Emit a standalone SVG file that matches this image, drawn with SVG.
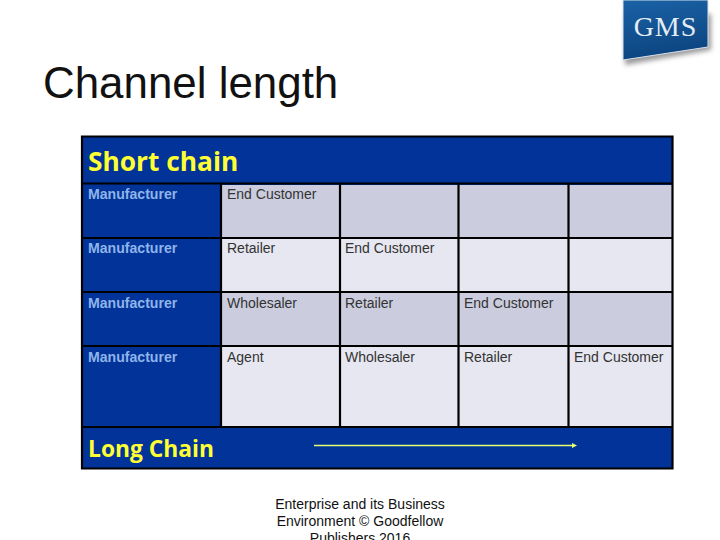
<svg xmlns="http://www.w3.org/2000/svg" width="720" height="540" viewBox="0 0 720 540">
<style>
text{font-family:"Liberation Sans",Arial,sans-serif}
.c{font-size:14px;fill:#333}
.m{font-size:14.100px;font-weight:700;fill:#8fb4ea}
.h{font-family:"Open Sans","Noto Sans",sans-serif;font-weight:700;font-size:26.300px;fill:#ffff33}
.f{font-size:14px;fill:#111;text-anchor:middle}
.d{fill:#cbcdde}.l{fill:#e6e7f0}
.g{stroke:#000;stroke-width:2.200;fill:none}
</style>
<defs>
<linearGradient id="lg" x1="0" y1="0" x2="0.2" y2="1"><stop offset="0" stop-color="#1a62a6"/><stop offset="1" stop-color="#0c4580"/></linearGradient>
<filter id="bl" x="-20%" y="-20%" width="140%" height="140%"><feGaussianBlur stdDeviation="2.500"/></filter>
</defs>
<g id="logo">
<polygon points="625,14 711,14 711,50 625,65" fill="#999" filter="url(#bl)"/>
<polygon points="623,0 708,0 708,47 623,60" fill="url(#lg)" stroke="#d8e0ea" stroke-width="1"/>
<text x="665.500" y="35.500" text-anchor="middle" style="font-family:'Liberation Serif',serif;font-size:28px;letter-spacing:1px" fill="#e4ecf4">GMS</text>
</g>
<text id="title" x="43" y="98" style="font-size:43.900px" fill="#111">Channel length</text>
<g id="table">
<rect x="82" y="136" width="590" height="332" fill="#013399"/>
<rect class="d" x="221" y="185" width="451" height="53"/>
<rect class="l" x="221" y="238" width="451" height="54"/>
<rect class="d" x="221" y="292" width="451" height="54"/>
<rect class="l" x="221" y="346" width="451" height="81"/>
</g>
<g id="grid">
<path class="g" stroke-width="1.600" d="M82 136.500H672.500V468.500H82Z"/>
<path class="g" stroke-width="3" d="M82 183.500H672"/>
<path class="g" d="M82 238H672M82 292H672M82 346H672M82 427H672M221 184V427M340 184V427M458.500 184V427M568.500 184V427"/>
</g>
<g id="labels">
<text class="h" x="88" y="171">Short chain</text>
<text class="m" x="88" y="199">Manufacturer</text>
<text class="c" x="227" y="199">End Customer</text>
<text class="m" x="88" y="253">Manufacturer</text>
<text class="c" x="227" y="253">Retailer</text>
<text class="c" x="345" y="253">End Customer</text>
<text class="m" x="88" y="308">Manufacturer</text>
<text class="c" x="227" y="308">Wholesaler</text>
<text class="c" x="345" y="308">Retailer</text>
<text class="c" x="464" y="308">End Customer</text>
<text class="m" x="88" y="362">Manufacturer</text>
<text class="c" x="227" y="362">Agent</text>
<text class="c" x="345" y="362">Wholesaler</text>
<text class="c" x="464" y="362">Retailer</text>
<text class="c" x="574" y="362">End Customer</text>
<text class="h" x="88" y="457" style="font-size:22.800px">Long Chain</text>
</g>
<g id="connectors">
<path d="M314 445.500H573" stroke="#eaff70" stroke-width="1.600" fill="none"/>
<polygon points="572,443 577,445.500 572,448" fill="#eaff70"/>
</g>
<g id="footer">
<text class="f" x="360" y="509">Enterprise and its Business</text>
<text class="f" x="360" y="526">Environment © Goodfellow</text>
<text class="f" x="360" y="543">Publishers 2016</text>
</g>
</svg>
